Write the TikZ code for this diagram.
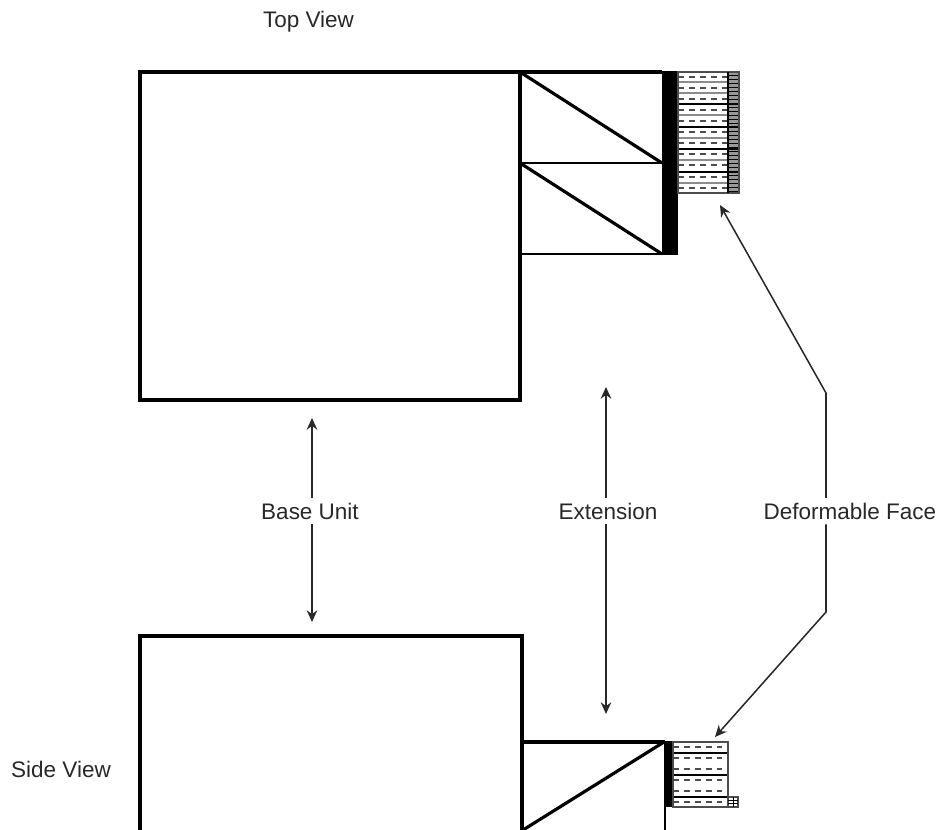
\documentclass[tikz,border=0pt]{standalone}
\usepackage{fontspec}
\setmainfont{Liberation Sans}
\usetikzlibrary{arrows.meta}
\definecolor{inkgrey}{RGB}{40, 40, 40}

\tikzset{
    wall/.style={line width=2.7pt, black},
    midwall/.style={line width=2pt, black},
    thinwall/.style={line width=1.2pt, black},
    greywall/.style={line width=1.9pt, black!45},
    gap/.style={line width=1.4pt, dash pattern=on 5pt off 4.3pt, black!70},
    pointer/.style={line width=1.3pt, inkgrey, -{Stealth[length=10pt, width=9pt]}},
    caption/.style={text=inkgrey, inner sep=0pt, anchor=base, text height=17.9pt, text depth=4.3pt, font=\fontsize{19.2}{22}\selectfont}
}

\begin{document}
\begin{tikzpicture}[x=0.03cm, y=-0.03cm]
    \useasboundingbox (0, 0) rectangle (938, 830);
    \pgfmathsetmacro{\baseLeft}{140}
    \pgfmathsetmacro{\topBarLeft}{662}
    \pgfmathsetmacro{\topFaceLeft}{678}
    \pgfmathsetmacro{\sideFaceLeft}{673}

    % captions
    \node[caption] (topview) at (308.5, 27) {Top View};
    \node[caption] (sideview) at (61, 777) {Side View};
    \node[caption] (baseunit) at (310, 519) {Base Unit};
    \node[caption] (extension) at (608, 519) {Extension};
    \node[caption] (face) at (850, 519) {Deformable Face};

    % top view, base and two extension cells
    \draw[wall] (\baseLeft, 72) rectangle (520, 400);
    \draw[wall] (520, 72) -- (\topBarLeft, 72);
    \draw[midwall] (520, 163) -- (\topBarLeft, 163);
    \draw[midwall] (520, 254) -- (\topBarLeft, 254);
    \draw[wall] (520, 72) -- (\topBarLeft, 163);
    \draw[wall] (520, 163) -- (\topBarLeft, 254);
    \fill[black] (\topBarLeft, 71) rectangle (\topFaceLeft, 255);

    % top view, deformable face
    \fill[black!40] (728, 72) rectangle (739, 193);
    \foreach \y in {82, 93, 115, 138, 160, 183}
    \draw[greywall] (\topFaceLeft, \y) -- (728, \y);
    \foreach \y in {104, 127, 149, 172}
    \draw[thinwall] (\topFaceLeft, \y) -- (739, \y);
    \foreach \y in {77, 88, 99, 110, 121, 132, 143, 154, 165, 177, 188}
    \draw[gap] (\topFaceLeft, \y) -- (728, \y);
    \foreach \y in {75, 79, ..., 191}
    \draw[line width=0.7pt] (728, \y) -- (739, \y);
    \draw[thinwall, black!70] (\topFaceLeft, 72) rectangle (739, 193);
    \draw[thinwall] (728, 72) -- (728, 193);

    % side view, base and extension
    \draw[wall] (\baseLeft, 830) -- (\baseLeft, 636) -- (522, 636) -- (522, 830);
    \draw[wall] (522, 742) -- (665, 742);
    \draw[wall] (523, 830) -- (664, 742);
    \draw[midwall] (665, 742) -- (665, 830);
    \fill[black] (665, 741) rectangle (\sideFaceLeft, 807);

    % side view, deformable face
    \foreach \y in {753, 775, 797}
    \draw[thinwall] (\sideFaceLeft, \y) -- (728, \y);
    \foreach \y in {747, 758, 769, 780, 791, 802}
    \draw[gap] (\sideFaceLeft, \y) -- (728, \y);
    \draw[thinwall, black!70] (\sideFaceLeft, 742) rectangle (728, 807);
    \draw[thinwall, black!70] (728, 797) rectangle (738, 807);
    \foreach \y in {800, 803.5}
    \draw[line width=0.7pt] (728, \y) -- (738, \y);
    \draw[line width=0.7pt] (733, 797) -- (733, 807);

    % pointer ends
    \coordinate (baseup) at (312, 418);
    \coordinate (basedown) at (312, 622);
    \coordinate (extup) at (606, 387);
    \coordinate (extdown) at (606, 714);
    \coordinate (facebendup) at (826, 393);
    \coordinate (facebenddown) at (826, 612);
    \coordinate (faceup) at (720, 205);
    \coordinate (facedown) at (715, 737);

    % connect captions to what they name
    \draw[pointer] (baseunit.north -| baseup) -- (baseup);
    \draw[pointer] (baseunit.south -| basedown) -- (basedown);
    \draw[pointer] (extension.north -| extup) -- (extup);
    \draw[pointer] (extension.south -| extdown) -- (extdown);
    \draw[pointer] (face.north -| facebendup) -- (facebendup) -- (faceup);
    \draw[pointer] (face.south -| facebenddown) -- (facebenddown) -- (facedown);
\end{tikzpicture}
\end{document}
